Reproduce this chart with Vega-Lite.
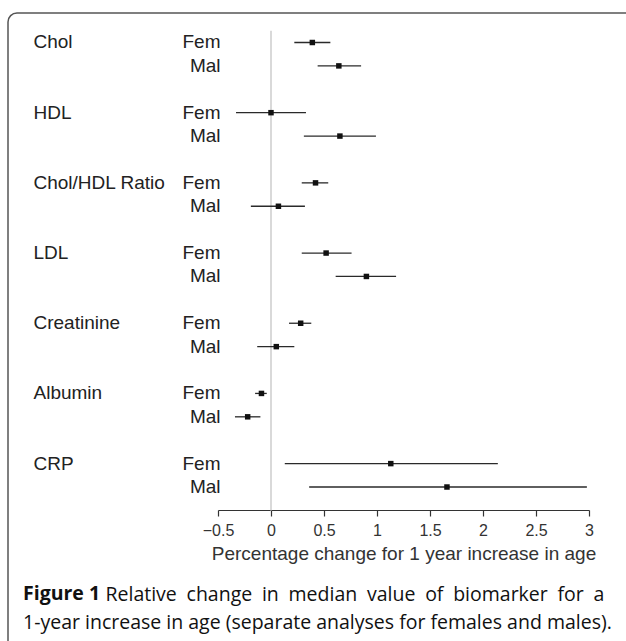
{
  "$schema": "https://vega.github.io/schema/vega-lite/v6.json",
  "autosize": {"type": "none"},
  "width": 640,
  "height": 650,
  "padding": {"left": 8, "top": 13, "right": -22, "bottom": -22},
  "background": "white",
  "config": {
    "view": {"stroke": "#555555", "strokeWidth": 1.5, "cornerRadius": 9, "fill": null},
    "axis": {"labelFont": "Liberation Sans", "titleFont": "Liberation Sans", "grid": false}
  },
  "title": {
    "text": "Figure 1",
    "subtitle": "1-year increase in age (separate analyses for females and males).",
    "orient": "bottom",
    "anchor": "start",
    "frame": "group",
    "offset": -78,
    "dx": 15,
    "font": "Open Sans",
    "fontSize": 19.5,
    "fontWeight": "bold",
    "color": "#111111",
    "subtitleFont": "Open Sans",
    "subtitleFontSize": 19.5,
    "subtitleColor": "#111111",
    "subtitlePadding": 9.5
  },
  "data": {
    "values": [
      {"group": "Chol", "sex": "Fem", "est": 0.39, "lo": 0.22, "hi": 0.56},
      {"group": "Chol", "sex": "Mal", "est": 0.64, "lo": 0.44, "hi": 0.85},
      {"group": "HDL", "sex": "Fem", "est": 0.0, "lo": -0.33, "hi": 0.33},
      {"group": "HDL", "sex": "Mal", "est": 0.65, "lo": 0.31, "hi": 0.99},
      {"group": "Chol/HDL Ratio", "sex": "Fem", "est": 0.42, "lo": 0.29, "hi": 0.54},
      {"group": "Chol/HDL Ratio", "sex": "Mal", "est": 0.07, "lo": -0.19, "hi": 0.32},
      {"group": "LDL", "sex": "Fem", "est": 0.52, "lo": 0.29, "hi": 0.76},
      {"group": "LDL", "sex": "Mal", "est": 0.9, "lo": 0.61, "hi": 1.18},
      {"group": "Creatinine", "sex": "Fem", "est": 0.28, "lo": 0.17, "hi": 0.38},
      {"group": "Creatinine", "sex": "Mal", "est": 0.05, "lo": -0.13, "hi": 0.22},
      {"group": "Albumin", "sex": "Fem", "est": -0.09, "lo": -0.15, "hi": -0.04},
      {"group": "Albumin", "sex": "Mal", "est": -0.22, "lo": -0.34, "hi": -0.1},
      {"group": "CRP", "sex": "Fem", "est": 1.13, "lo": 0.13, "hi": 2.14},
      {"group": "CRP", "sex": "Mal", "est": 1.66, "lo": 0.36, "hi": 2.98}
    ]
  },
  "resolve": {"axis": {"y": "independent"}},
  "layer": [
    {
      "data": {"values": [{"ref": 0}]},
      "mark": {"type": "rule", "color": "#cccccc", "strokeWidth": 1.5},
      "encoding": {
        "x": {"field": "ref", "type": "quantitative",
          "scale": {"domain": [-0.5, 3], "range": [210, 581], "zero": false, "nice": false},
          "axis": {"orient": "bottom", "offset": -153, "values": [-0.5, 0, 0.5, 1, 1.5, 2, 2.5, 3], "format": "~g",
            "tickSize": 6, "tickColor": "#333333", "tickWidth": 1.2, "domainColor": "#333333", "domainWidth": 1.2,
            "labelFontSize": 16, "labelColor": "#333333", "labelPadding": 6, "labelFlush": false,
            "title": "Percentage change for 1 year increase in age", "titleFontSize": 19,
            "titleFontWeight": "normal", "titleColor": "#333333", "titlePadding": 6}},
        "y": {"datum": "Chol|Fem", "bandPosition": 0, "type": "nominal",
          "scale": {"type": "band", "domain": ["Chol|Fem","Chol|Mal","Chol|","HDL|Fem","HDL|Mal","HDL|","Chol/HDL Ratio|Fem","Chol/HDL Ratio|Mal","Chol/HDL Ratio|","LDL|Fem","LDL|Mal","LDL|","Creatinine|Fem","Creatinine|Mal","Creatinine|","Albumin|Fem","Albumin|Mal","Albumin|","CRP|Fem","CRP|Mal","CRP|"], "range": [17.8, 509.1], "paddingInner": 0, "paddingOuter": 0},
          "axis": {"orient": "left", "labels": false, "ticks": false, "domain": false, "grid": false,
            "title": "Relative\u2002change\u2002in\u2002median\u2002value\u2002of\u2002biomarker\u2002for\u2002a",
            "titleAngle": 0, "titleX": 97, "titleY": 572.5, "titleAlign": "left", "titleBaseline": "top",
            "titleFont": "Open Sans", "titleFontSize": 19.5, "titleFontWeight": "normal", "titleColor": "#111111"}},
        "y2": {"datum": "CRP|"}
      }
    },
    {
      "transform": [{"calculate": "datum.group + '|' + datum.sex", "as": "row"}],
      "mark": {"type": "rule", "color": "#2a2a2a", "strokeWidth": 1.3},
      "encoding": {
        "x": {"field": "lo", "type": "quantitative",
          "scale": {"domain": [-0.5, 3], "range": [210, 581], "zero": false, "nice": false},
          "axis": {"orient": "bottom", "offset": -153, "values": [-0.5, 0, 0.5, 1, 1.5, 2, 2.5, 3], "format": "~g",
            "tickSize": 6, "tickColor": "#333333", "tickWidth": 1.2, "domainColor": "#333333", "domainWidth": 1.2,
            "labelFontSize": 16, "labelColor": "#333333", "labelPadding": 6, "labelFlush": false,
            "title": "Percentage change for 1 year increase in age", "titleFontSize": 19,
            "titleFontWeight": "normal", "titleColor": "#333333", "titlePadding": 6}},
        "x2": {"field": "hi"},
        "y": {"field": "row", "type": "nominal",
          "scale": {"type": "band", "domain": ["Chol|Fem","Chol|Mal","Chol|","HDL|Fem","HDL|Mal","HDL|","Chol/HDL Ratio|Fem","Chol/HDL Ratio|Mal","Chol/HDL Ratio|","LDL|Fem","LDL|Mal","LDL|","Creatinine|Fem","Creatinine|Mal","Creatinine|","Albumin|Fem","Albumin|Mal","Albumin|","CRP|Fem","CRP|Mal","CRP|"], "range": [17.8, 509.1], "paddingInner": 0, "paddingOuter": 0},
          "axis": {"orient": "left", "domain": false, "ticks": false, "title": null,
            "labelExpr": "split(datum.value, '|')[1]", "labelAlign": "right", "labelPadding": -212,
            "labelFontSize": 19, "labelColor": "#222222", "labelBaseline": "middle"}}
      }
    },
    {
      "transform": [{"calculate": "datum.group + '|' + datum.sex", "as": "row"}],
      "mark": {"type": "square", "color": "#111111", "filled": true, "size": 30, "opacity": 1},
      "encoding": {
        "x": {"field": "est", "type": "quantitative",
          "scale": {"domain": [-0.5, 3], "range": [210, 581], "zero": false, "nice": false},
          "axis": {"orient": "bottom", "offset": -153, "values": [-0.5, 0, 0.5, 1, 1.5, 2, 2.5, 3], "format": "~g",
            "tickSize": 6, "tickColor": "#333333", "tickWidth": 1.2, "domainColor": "#333333", "domainWidth": 1.2,
            "labelFontSize": 16, "labelColor": "#333333", "labelPadding": 6, "labelFlush": false,
            "title": "Percentage change for 1 year increase in age", "titleFontSize": 19,
            "titleFontWeight": "normal", "titleColor": "#333333", "titlePadding": 6}},
        "y": {"field": "row", "type": "nominal",
          "scale": {"type": "band", "domain": ["Chol|Fem","Chol|Mal","Chol|","HDL|Fem","HDL|Mal","HDL|","Chol/HDL Ratio|Fem","Chol/HDL Ratio|Mal","Chol/HDL Ratio|","LDL|Fem","LDL|Mal","LDL|","Creatinine|Fem","Creatinine|Mal","Creatinine|","Albumin|Fem","Albumin|Mal","Albumin|","CRP|Fem","CRP|Mal","CRP|"], "range": [17.8, 509.1], "paddingInner": 0, "paddingOuter": 0},
          "axis": {"orient": "left", "domain": false, "ticks": false, "title": null,
            "labelExpr": "split(datum.value, '|')[1] == 'Fem' ? split(datum.value, '|')[0] : ''",
            "labelAlign": "left", "labelPadding": -25,
            "labelFontSize": 19, "labelColor": "#222222", "labelBaseline": "middle"}}
      }
    }
  ]
}
